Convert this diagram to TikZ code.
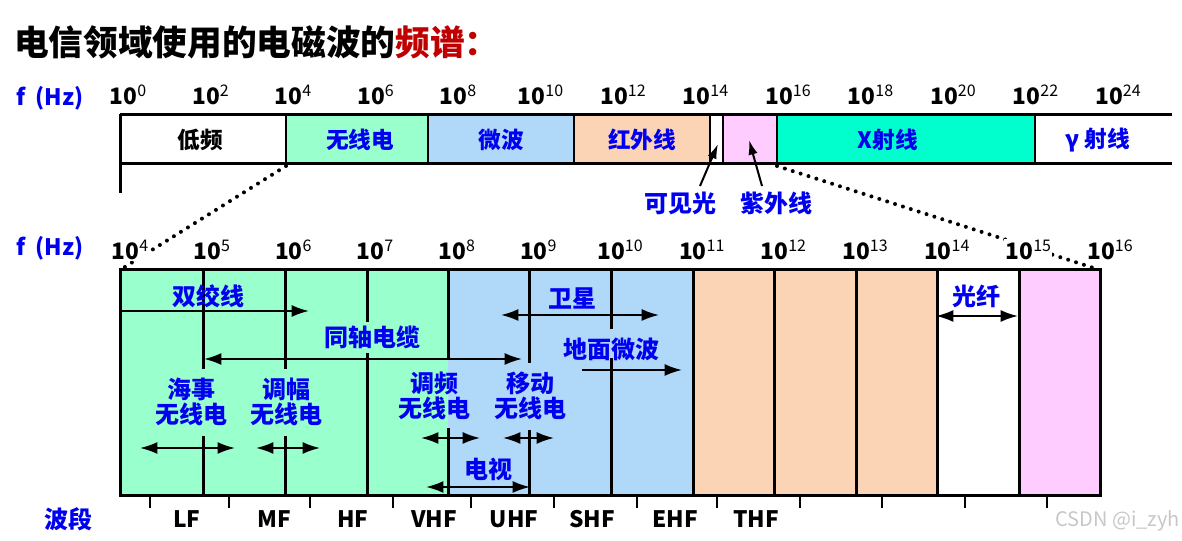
\documentclass[tikz,border=0pt]{standalone}
\usepackage{fontspec}
\setmainfont{Noto Sans CJK SC}
\usetikzlibrary{arrows.meta}
\definecolor{grn}{HTML}{99FFCC}
\definecolor{mic}{HTML}{B0D8F8}
\definecolor{ir}{HTML}{FAD4B4}
\definecolor{uvc}{HTML}{FFCCFF}
\definecolor{xr}{HTML}{00FFCC}
\definecolor{tblue}{HTML}{0000F0}
\definecolor{tred}{HTML}{C00000}
\newcommand\pw[2][]{10\raisebox{0.33em}{\mdseries\fontsize{12}{12}\selectfont #2}}
\begin{document}
\begin{tikzpicture}[x=0.75pt,y=-0.75pt,
  lab/.style={font=\bfseries\fontsize{18}{18.5}\selectfont, text=tblue, inner sep=1pt, align=center},
  toplab/.style={font=\bfseries\fontsize{17}{20}\selectfont, inner sep=1pt},
  num/.style={font=\bfseries\fontsize{17}{20}\selectfont, fill=white, inner sep=1pt},
  band/.style={font=\bfseries\fontsize{17}{20}\selectfont, inner sep=1pt},
  thick3/.style={line width=2.25pt},
  sep/.style={line width=1.8pt},
  dbl/.style={{Latex[length=13pt,width=9pt]}-{Latex[length=13pt,width=9pt]}, line width=1.5pt},
  one/.style={-{Latex[length=13pt,width=9pt]}, line width=1.5pt},
  ptr/.style={-{Latex[length=11pt,width=7pt]}, line width=1.5pt},
  dots/.style={line width=3pt, line cap=round, dash pattern=on 0pt off 6.2pt}]
\useasboundingbox (0,0) rectangle (1182,541);

% title
\node[anchor=west, font=\bfseries\fontsize{26}{30}\selectfont, inner sep=0pt] (title) at (14,42)
  {电信领域使用的电磁波的\textcolor{tred}{频谱：}};

% ---------- top bar ----------
\fill[grn] (286,115) rectangle (428,164);
\fill[mic] (428,115) rectangle (574,164);
\fill[ir]  (574,115) rectangle (710,164);
\fill[uvc] (723,115) rectangle (777,164);
\fill[xr]  (777,115) rectangle (1035,164);
\draw[thick3] (120,115) -- (1172,115);
\draw[thick3] (120,164) -- (1172,164);
\draw[thick3] (120,114) -- (120,193);
\foreach \x in {286,428,574,710,723,777,1035} \draw[sep] (\x,115) -- (\x,164);

\node[toplab] (lowf) at (200,140) {低频};
\node[toplab,text=tblue] (radio) at (360,140) {无线电};
\node[toplab,text=tblue] (micro) at (501,140) {微波};
\node[toplab,text=tblue] (infra) at (642,140) {红外线};
\node[toplab,text=tblue] (xray) at (888,140) {X射线};
\node[toplab,text=tblue] (gamma) at (1098,140) {γ 射线};

\node[lab] (vis) at (680,203) {可见光};
\node[lab] (uvl) at (776,203) {紫外线};
\coordinate (visp) at (718,144);
\coordinate (uvp) at (749,140);
\coordinate (visq) at (700,186);
\coordinate (uvq) at (762,186);
\draw[ptr] (visq) -- (visp);
\draw[ptr] (uvq) -- (uvp);

% dotted zoom lines
\coordinate (z1) at (286,166);
\coordinate (z2) at (120,270);
\coordinate (z3) at (777,166);
\coordinate (z4) at (1100,270);
\draw[dots] (z1) -- (z2);
\draw[dots] (z3) -- (z4);

% top frequency labels
\node[font=\bfseries\fontsize{17}{20}\selectfont, text=tblue, anchor=west, inner sep=0pt] (fhz1) at (16,98) {f\ \ (Hz)};
\foreach \e [count=\i from 0] in {0,2,4,6,8,10,12,14,16,18,20,22,24}
  \node[num] (t\i) at (128+82.5*\i,95) {\pw{\e}};

% ---------- lower box ----------
\fill[grn] (120,270) rectangle (448,496);
\fill[mic] (448,270) rectangle (693,496);
\fill[ir]  (693,270) rectangle (937,496);
\fill[uvc] (1019,270) rectangle (1100,496);
\foreach \a/\b/\c in {203/270/369, 203/436/496, 285/270/369, 285/436/496,
    367/270/322, 367/353/496, 448/270/358, 448/428/496,
    529/270/363, 529/430/496, 611/270/329, 611/358/496,
    693/270/496, 774/270/496, 856/270/496, 937/270/496, 1019/270/496}
  \draw[thick3] (\a,\b) -- (\a,\c);
\draw[thick3] (120,270) rectangle (1100,496);

% lower frequency labels
\node[font=\bfseries\fontsize{17}{20}\selectfont, text=tblue, anchor=west, inner sep=0pt] (fhz2) at (16,248) {f\ \ (Hz)};
\foreach \e [count=\i from 0] in {4,5,6,7,8,9,10,11,12,13,14,15,16}
  \node[num] (b\i) at (130+81.67*\i,250) {\pw{\e}};

% ticks and bands
\foreach \x in {150,229,310,393,471,554,637,717,800,882,965,1047}
  \draw[line width=1.8pt] (\x,496) -- (\x,508);
\node[lab] (bd) at (68,519) {波段};
\foreach \n/\x in {LF/187,MF/274,HF/353,VHF/434,UHF/514,SHF/592,EHF/675,THF/756}
  \node[band] (\n) at (\x,519) {\n};

% media labels and arrows
\node[lab] (twist) at (208,296) {双绞线};
\coordinate (tw1) at (120,311); \coordinate (tw2) at (309,311);
\draw[one] (tw1) -- (tw2);

\node[lab] (coax) at (372,337) {同轴电缆};
\coordinate (cx1) at (204,359); \coordinate (cx2) at (522,359);
\draw[dbl] (cx1) -- (cx2);

\node[lab] (sat) at (572,298) {卫星};
\coordinate (st1) at (501,315); \coordinate (st2) at (659,315);
\draw[dbl] (st1) -- (st2);

\node[lab] (mw) at (611,349) {地面微波};
\coordinate (mw1) at (582,370); \coordinate (mw2) at (682,370);
\draw[one] (mw1) -- (mw2);

\node[lab] (mar) at (191,402) {海事\\无线电};
\coordinate (mr1) at (140,448); \coordinate (mr2) at (235,448);
\draw[dbl] (mr1) -- (mr2);

\node[lab] (am) at (286,402) {调幅\\无线电};
\coordinate (am1) at (256,448); \coordinate (am2) at (320,448);
\draw[dbl] (am1) -- (am2);

\node[lab] (fm) at (434,396) {调频\\无线电};
\coordinate (fm1) at (421,438); \coordinate (fm2) at (480,438);
\draw[dbl] (fm1) -- (fm2);

\node[lab] (mob) at (530,396) {移动\\无线电};
\coordinate (mb1) at (503,438); \coordinate (mb2) at (554,438);
\draw[dbl] (mb1) -- (mb2);

\node[lab] (tv) at (488,469) {电视};
\coordinate (tv1) at (426,487); \coordinate (tv2) at (530,487);
\draw[dbl] (tv1) -- (tv2);

\node[lab] (fib) at (976,296) {光纤};
\coordinate (fb1) at (936,316); \coordinate (fb2) at (1018,316);
\draw[dbl] (fb1) -- (fb2);

% watermark
\node[font=\fontsize{15}{18}\selectfont, text=black!22, anchor=east, inner sep=0pt] (wm) at (1180,521) {CSDN @i\_zyh};
\end{tikzpicture}
\end{document}
